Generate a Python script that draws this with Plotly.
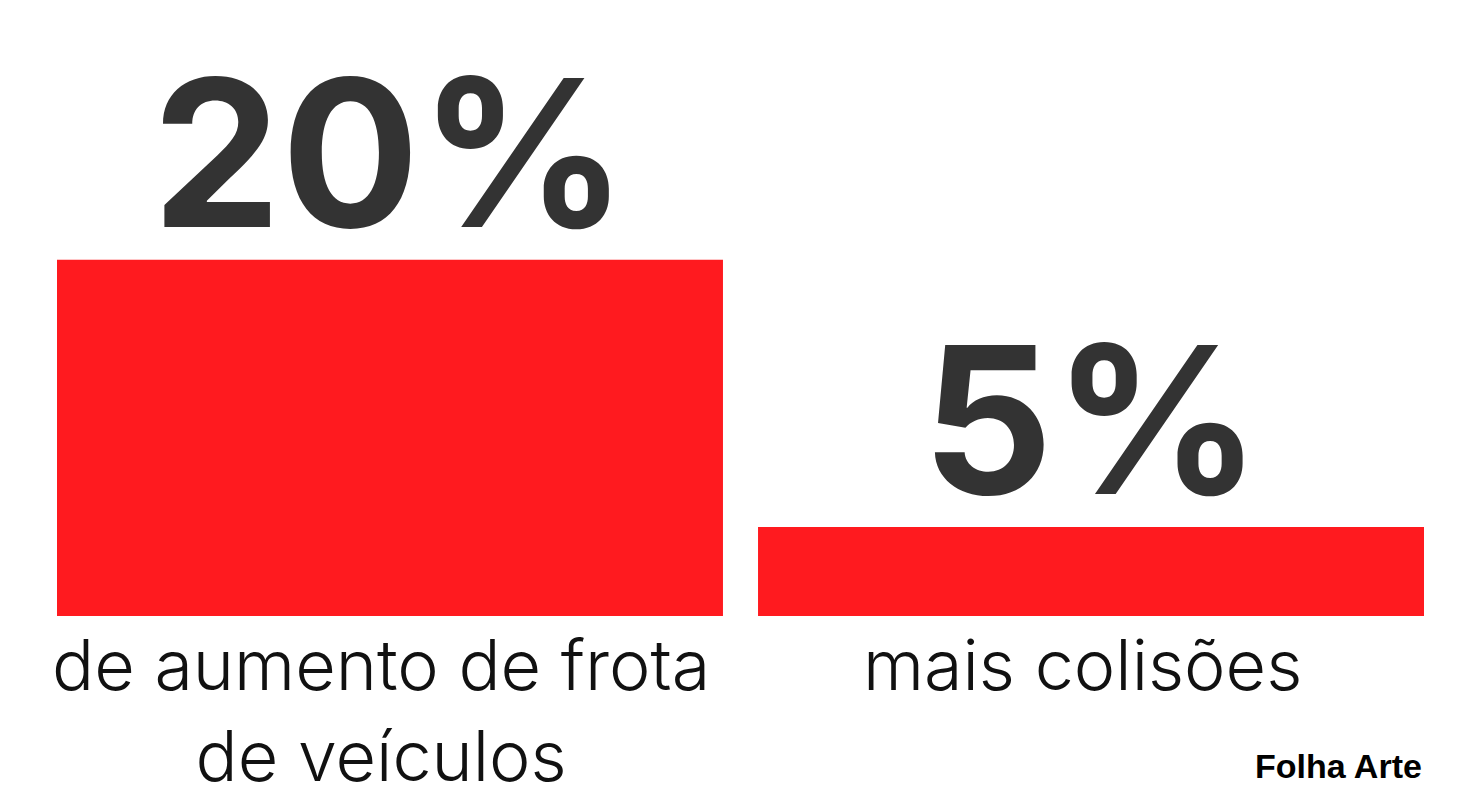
import plotly.graph_objects as go

# data
categories = ["de aumento de frota<br>de veículos", "mais colisões"]
values = [20, 5]
value_labels = ["20%", "5%"]
source = "Folha Arte"

RED = "#FF1A1F"
DARK = "#333333"

x_pos = list(range(len(categories)))

fig = go.Figure()

fig.add_trace(go.Bar(
    x=x_pos,
    y=values,
    width=0.95,
    marker=dict(color=RED, line=dict(width=0)),
    hoverinfo="skip",
))

# big percentage labels above the bars
for i, (v, lab) in enumerate(zip(values, value_labels)):
    fig.add_annotation(
        x=i, y=v, text=lab,
        showarrow=False, yanchor="bottom", yshift=-18,
        font=dict(family="Inter", size=205, color=DARK, weight=700),
    )

# category labels below the bars
for i, cat in enumerate(categories):
    fig.add_annotation(
        x=i, y=0, text=cat,
        showarrow=False, yanchor="top", yshift=-4, xshift=-9,
        font=dict(family="Inter", size=70, color="#111111", weight=300),
    )

fig.add_annotation(
    xref="paper", yref="paper", x=1.0, y=-0.3,
    xanchor="right", yanchor="bottom",
    text="<b>" + source + "</b>", showarrow=False,
    font=dict(family="Liberation Sans", size=34, color="#000000"),
)

# the page body has an 8px margin, so size and margins are compensated
fig.update_layout(
    width=1463, height=783,
    margin=dict(l=49, r=47, t=38, b=175),
    paper_bgcolor="white",
    plot_bgcolor="white",
    showlegend=False,
    xaxis=dict(range=[-0.475, 1.475], visible=False, fixedrange=True),
    yaxis=dict(range=[0, 32], visible=False, fixedrange=True),
)

fig.write_html("out.html")
